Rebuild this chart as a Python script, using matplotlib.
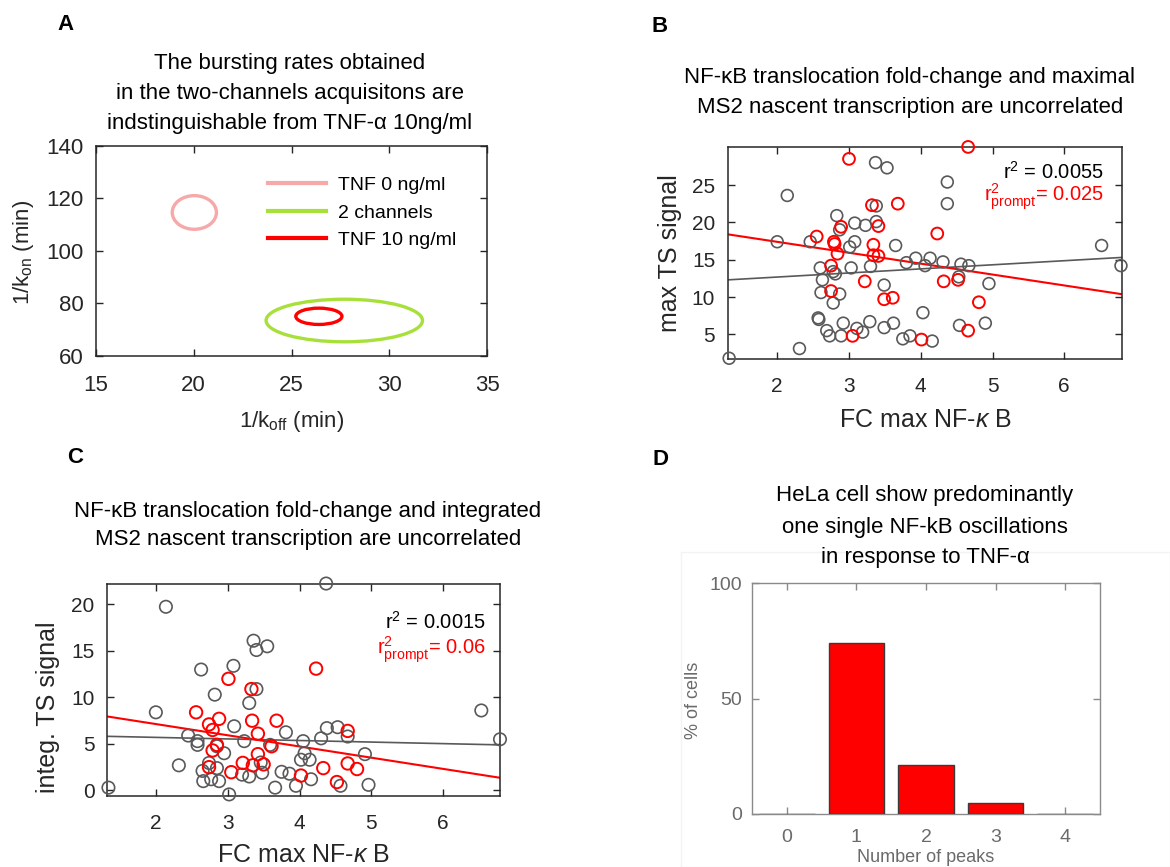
import numpy as np
import matplotlib
matplotlib.use("Agg")
import matplotlib.pyplot as plt
from matplotlib.patches import Ellipse, Rectangle
from matplotlib.lines import Line2D

plt.rcParams['font.family'] = ['Liberation Sans', 'DejaVu Sans']
plt.rcParams['mathtext.fontset'] = 'custom'
plt.rcParams['mathtext.rm'] = 'Liberation Sans'
plt.rcParams['mathtext.it'] = 'Liberation Sans:italic'
plt.rcParams['mathtext.bf'] = 'Liberation Sans:bold'

W, H = 1170, 867

# ---------------- Panel A: bursting-rate confidence ellipses ----------------
ell_labels = ['TNF 0 ng/ml', '2 channels', 'TNF 10 ng/ml']
ell_cx = [20.03, 27.7, 26.4]        # 1/k_off centre (min)
ell_cy = [114.6, 73.5, 75.1]        # 1/k_on centre (min)
ell_rx = [1.13, 4.0, 1.18]
ell_ry = [6.4, 8.1, 3.1]
ell_colors = ['#f7a8a8', '#a8e03a', '#ff0000']

# ---------------- Panel B: max TS signal vs FC max NF-kB ----------------
b_all_x = [1.33, 2.31, 2.14, 2.00, 2.46, 3.37, 3.53, 4.37, 4.37, 3.38, 2.83, 2.87,
           3.08, 3.23, 3.38, 3.08, 3.01, 3.65, 3.30, 3.03, 2.60, 2.63, 2.81, 2.78,
           2.61, 2.87, 2.78, 3.49, 3.80, 3.93, 4.13, 4.06, 4.31, 4.56, 4.67, 4.53,
           4.95, 6.52, 6.79, 4.03, 2.57, 2.58, 2.69, 2.73, 2.92, 2.89, 3.11, 3.19,
           3.29, 3.49, 3.62, 3.75, 3.85, 4.16, 4.54, 4.90]
b_all_y = [1.8, 3.1, 23.6, 17.4, 17.4, 28.0, 27.3, 25.4, 22.5, 22.2, 20.9, 19.0,
           19.9, 19.6, 20.1, 17.4, 16.7, 16.9, 14.1, 13.9, 13.9, 12.3, 13.1, 13.4,
           10.6, 10.4, 9.2, 11.6, 14.6, 15.2, 15.2, 14.2, 14.7, 14.4, 14.2, 12.7,
           11.8, 16.9, 14.2, 7.9, 7.2, 7.0, 5.5, 4.8, 6.5, 4.8, 5.8, 5.3,
           6.7, 5.9, 6.5, 4.4, 4.8, 4.1, 6.2, 6.5]
b_prompt_x = [3.00, 4.66, 3.32, 3.68, 2.89, 3.41, 2.55, 2.79, 2.80, 2.84, 3.34, 3.34,
              3.41, 4.23, 2.75, 2.75, 3.22, 3.49, 3.61, 4.32, 4.52, 4.81, 4.66, 3.05, 4.01]
b_prompt_y = [28.5, 30.1, 22.3, 22.5, 19.4, 19.5, 18.1, 17.4, 17.1, 15.8, 17.0, 15.6,
              15.5, 18.5, 14.2, 10.8, 12.1, 9.7, 9.9, 12.1, 12.3, 9.3, 5.5, 4.8, 4.3]
b_fit_all = [0.547, 11.58]       # slope, intercept
b_fit_prompt = [-1.46, 20.31]
b_r2_all, b_r2_prompt = '0.0055', '0.025'

# ---------------- Panel C: integrated TS signal vs FC max NF-kB ----------------
c_all_x = [1.34, 2.14, 4.37, 2.00, 2.32, 2.45, 2.58, 2.58, 2.63, 2.82, 3.08, 3.36,
           3.40, 3.55, 3.40, 3.30, 3.09, 3.23, 2.95, 2.85, 3.81, 4.05, 4.07, 4.14,
           4.02, 4.30, 4.38, 4.53, 4.67, 4.91, 4.96, 4.57, 6.53, 6.79, 2.65, 2.66,
           2.77, 2.88, 2.85, 2.74, 3.02, 3.20, 3.30, 3.48, 3.66, 3.75, 3.86, 3.95,
           4.16, 3.46, 3.59]
c_all_y = [0.3, 19.75, 22.25, 8.4, 2.7, 5.9, 5.3, 4.9, 13.0, 10.3, 13.4, 16.1,
           15.1, 15.5, 10.9, 9.4, 6.9, 5.3, 4.0, 4.75, 6.25, 5.3, 4.0, 3.3,
           3.3, 5.6, 6.7, 6.8, 5.8, 3.9, 0.6, 0.5, 8.6, 5.5, 2.1, 1.0,
           1.2, 1.0, 2.4, 2.95, -0.43, 1.7, 1.5, 1.9, 0.3, 2.0, 1.8, 0.5,
           1.2, 3.0, 4.9]
c_prompt_x = [2.56, 3.01, 3.33, 4.23, 2.74, 2.88, 3.34, 3.68, 2.79, 3.42, 2.85, 2.79,
              3.61, 3.42, 2.74, 3.05, 3.21, 3.35, 3.50, 4.02, 4.33, 4.52, 4.67, 4.80, 4.67]
c_prompt_y = [8.4, 12.0, 10.9, 13.1, 7.1, 7.7, 7.5, 7.5, 6.5, 6.1, 4.9, 4.3,
              4.75, 3.9, 2.5, 1.96, 2.96, 2.7, 2.8, 1.6, 2.4, 0.9, 2.9, 2.3, 6.4]
c_fit_all = [-0.168, 6.04]
c_fit_prompt = [-1.206, 9.55]
c_r2_all, c_r2_prompt = '0.0015', '0.06'

# ---------------- Panel D: number of NF-kB peaks ----------------
d_peaks = [0, 1, 2, 3, 4]
d_pct = [0, 74.0, 21.3, 4.9, 0]

AX_COL = '#262626'
GRAY = '#595959'

fig = plt.figure(figsize=(W / 100, H / 100), dpi=100)


def fx(px):
    return px / W


def fy(py):
    return 1 - py / H


def add_axes(l, t, r, b):
    return fig.add_axes([fx(l), fy(b), (r - l) / W, (b - t) / H])


def style(ax, col=AX_COL, labcol=AX_COL, size=13, lw=1.1, xpad=7, ypad=7):
    for s in ax.spines.values():
        s.set_color(col)
        s.set_linewidth(lw)
    ax.tick_params(direction='in', top=True, right=True, length=5, width=1.0,
                   colors=col, labelcolor=labcol, labelsize=size)
    ax.tick_params(axis='x', pad=xpad)
    ax.tick_params(axis='y', pad=ypad)


def ftext(px, py, s, **kw):
    fig.text(fx(px), fy(py), s, **kw)


# ---------- A ----------
axA = add_axes(96, 145.7, 487, 356)
for cx, cy, rx, ry, c, lab in zip(ell_cx, ell_cy, ell_rx, ell_ry, ell_colors, ell_labels):
    axA.add_patch(Ellipse((cx, cy), 2 * rx, 2 * ry, fill=False, edgecolor=c, lw=2.4))
axA.set_xlim(15, 35)
axA.set_ylim(60, 140)
axA.set_xticks([15, 20, 25, 30, 35])
axA.set_yticks([60, 80, 100, 120, 140])
style(axA, size=16, xpad=14, ypad=9)
handles = [Line2D([0], [0], color=c, lw=3) for c in ell_colors]
axA.legend(handles, ell_labels, loc='upper left', bbox_to_anchor=(0.42, 0.89),
           frameon=False, fontsize=14, handlelength=3.0, labelspacing=0.5,
           handletextpad=0.6, borderaxespad=0)
ftext(66, 24, 'A', fontsize=16, fontweight='bold', ha='center', va='center')
for py, s in zip([63, 93, 123], ['The bursting rates obtained',
                                 'in the two-channels acquisitons are',
                                 'indstinguishable from TNF-α 10ng/ml']):
    ftext(290, py, s, fontsize=16, ha='center', va='center')
ftext(292, 421, r'1/k$_{\mathregular{off}}$ (min)', fontsize=16, ha='center', va='center', color=AX_COL)
ftext(24, 252, r'1/k$_{\mathregular{on}}$ (min)', fontsize=16, ha='center', va='center',
      rotation=90, color=AX_COL)


def scatter_panel(ax, ax_x, ax_y, pr_x, pr_y, fit_a, fit_p, xlim, ylim, ms):
    ax.scatter(ax_x, ax_y, s=ms, facecolors='none', edgecolors=GRAY, linewidths=1.2,
               clip_on=False, zorder=3)
    ax.scatter(pr_x, pr_y, s=ms, facecolors='none', edgecolors='#ff0000', linewidths=1.4,
               clip_on=False, zorder=4)
    xx = np.array(xlim)
    ax.plot(xx, fit_a[0] * xx + fit_a[1], color=GRAY, lw=1.2, zorder=2)
    ax.plot(xx, fit_p[0] * xx + fit_p[1], color='#ff0000', lw=1.5, zorder=2)
    ax.set_xlim(*xlim)
    ax.set_ylim(*ylim)
    ax.set_xticks([2, 3, 4, 5, 6])
    style(ax, size=15, xpad=13, ypad=9)


# ---------- B ----------
axB = add_axes(727.7, 147.3, 1121.7, 359)
scatter_panel(axB, b_all_x, b_all_y, b_prompt_x, b_prompt_y, b_fit_all, b_fit_prompt,
              (1.31, 6.80), (1.7, 30.05), 72)
axB.set_yticks([5, 10, 15, 20, 25])
ftext(1104, 172, r'r$^{2}$ = ' + b_r2_all, fontsize=14.5, ha='right', va='center', color='black')
ftext(1104, 197, r'r$^{2}_{\mathregular{prompt}}$= ' + b_r2_prompt, fontsize=14.5, ha='right',
      va='center', color='#ff0000')
ftext(660, 26, 'B', fontsize=16, fontweight='bold', ha='center', va='center')
for py, s in zip([77, 108], ['NF-κB translocation fold-change and maximal',
                             'MS2 nascent transcription are uncorrelated']):
    ftext(910, py, s, fontsize=16, ha='center', va='center')
ftext(925, 420, r'FC max NF-$\kappa$ B', fontsize=18, ha='center', va='center', color=AX_COL)
ftext(670, 253, 'max TS signal', fontsize=18, ha='center', va='center', rotation=90, color=AX_COL)

# ---------- C ----------
axC = add_axes(107, 584, 500, 796)
scatter_panel(axC, c_all_x, c_all_y, c_prompt_x, c_prompt_y, c_fit_all, c_fit_prompt,
              (1.32, 6.79), (-0.6, 22.2), 80)
axC.set_yticks([0, 5, 10, 15, 20])
ftext(486, 622, r'r$^{2}$ = ' + c_r2_all, fontsize=14.5, ha='right', va='center', color='black')
ftext(486, 650, r'r$^{2}_{\mathregular{prompt}}$= ' + c_r2_prompt, fontsize=14.5, ha='right',
      va='center', color='#ff0000')
ftext(75, 458, 'C', fontsize=16, fontweight='bold', ha='center', va='center')
for py, s in zip([512, 540], ['NF-κB translocation fold-change and integrated',
                              'MS2 nascent transcription are uncorrelated']):
    ftext(308, py, s, fontsize=16, ha='center', va='center')
ftext(303, 855, r'FC max NF-$\kappa$ B', fontsize=18, ha='center', va='center', color=AX_COL)
ftext(48, 707, 'integ. TS signal', fontsize=18, ha='center', va='center', rotation=90, color=AX_COL)

# ---------- D ----------
fig.patches.append(Rectangle((fx(681), fy(867)), (1170 - 681) / W, (867 - 552) / H,
                             transform=fig.transFigure, fill=False, edgecolor='#f3f3f3',
                             lw=1.0, zorder=0))
axD = add_axes(752, 583, 1100, 814)
axD.bar(d_peaks, d_pct, width=0.8, color='#ff0000', edgecolor='#3a3a3a', linewidth=1.0, zorder=3)
axD.set_xlim(-0.5, 4.5)
axD.set_ylim(0, 100)
axD.set_xticks(d_peaks)
axD.set_yticks([0, 50, 100])
style(axD, col='#8a8a8a', labcol='#6a6a6a', size=14, lw=1.0, xpad=11, ypad=7)
ftext(660, 460, 'D', fontsize=16, fontweight='bold', ha='center', va='center')
for py, s in zip([496, 527, 557], ['HeLa cell show predominantly',
                                   'one single NF-kB oscillations',
                                   'in response to TNF-α']):
    ftext(925, py, s, fontsize=16, ha='center', va='center')
ftext(926, 858, 'Number of peaks', fontsize=13, ha='center', va='center', color='#6a6a6a')
ftext(694, 700, '% of cells', fontsize=13, ha='center', va='center', rotation=90, color='#6a6a6a')

fig.savefig('out.png', dpi=100)
